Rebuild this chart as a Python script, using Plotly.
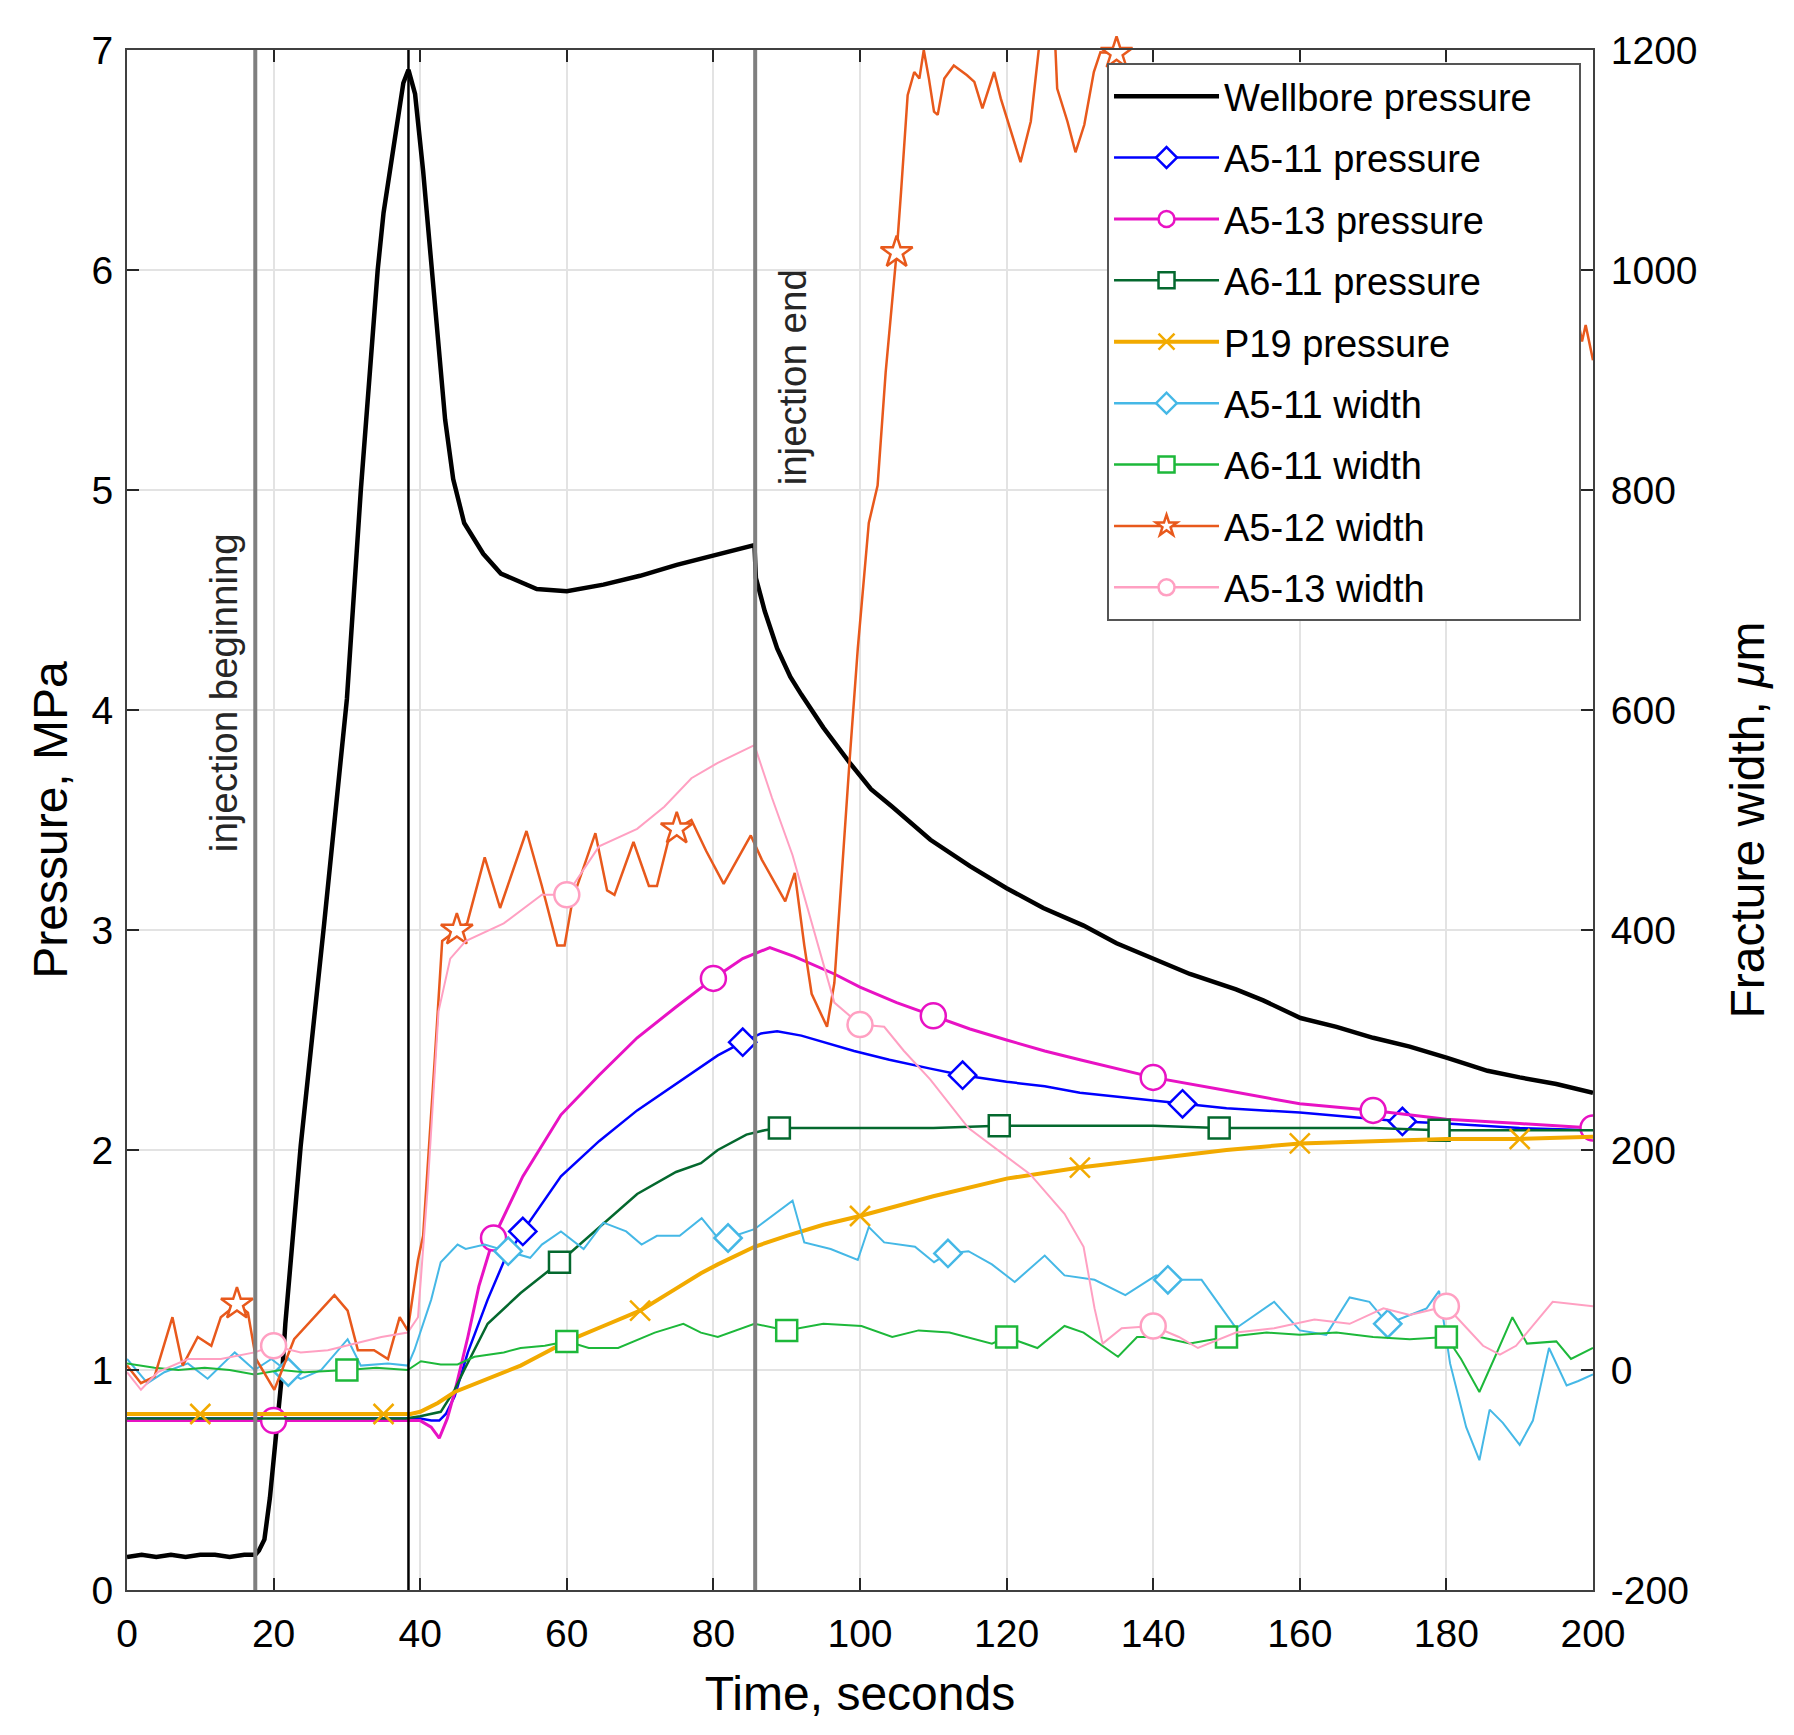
import plotly.graph_objects as go

# ---- data ----
# time in seconds, pressure in MPa (left axis), width in micrometres (right axis)

wb_t = [0, 2, 4, 6, 8, 10, 12, 14, 16, 17.5, 18, 18.75, 19.5, 20.6, 21.2, 21.6, 23.7, 26.9,
        30, 31.9, 34.2, 35.0, 36.5, 37.7, 38.4, 39.3, 40.4, 41.5, 42.5, 43.4, 44.5, 46, 48.6,
        51, 55.9, 60, 65, 70, 75, 80, 85.6, 85.8, 87, 88.7, 90.5, 92, 95, 98.6, 101.5, 104.4,
        109.6, 115, 120, 125, 130.5, 135, 140.9, 145, 151.3, 155, 160.1, 165, 170, 175, 180,
        185.6, 190, 195, 200]
wb_p = [0.15, 0.16, 0.15, 0.16, 0.15, 0.16, 0.16, 0.15, 0.16, 0.16, 0.18, 0.23, 0.42, 0.78,
        1.0, 1.21, 2.02, 3.03, 4.05, 5.0, 6.0, 6.26, 6.6, 6.85, 6.91, 6.8, 6.45, 6.02, 5.65,
        5.32, 5.05, 4.85, 4.71, 4.62, 4.55, 4.54, 4.57, 4.61, 4.66, 4.7, 4.75, 4.6, 4.45, 4.28,
        4.15, 4.07, 3.92, 3.76, 3.64, 3.56, 3.41, 3.29, 3.19, 3.1, 3.02, 2.94, 2.86, 2.8, 2.73,
        2.68, 2.6, 2.56, 2.51, 2.47, 2.42, 2.36, 2.33, 2.3, 2.26]

a511p_t = [0, 10, 20, 30, 38, 40, 41.5, 42.6, 43.5, 44.7, 46.5, 49.2, 51.5, 54, 59.2, 64.4,
           69.6, 74.9, 80.6, 84, 86.5, 88.7, 92, 99.2, 104, 109.6, 114, 120, 125.2, 130, 135.7,
           144, 150, 160, 167, 174, 180, 190, 200]
a511p_p = [0.78, 0.78, 0.78, 0.78, 0.78, 0.78, 0.77, 0.77, 0.8, 0.88, 1.08, 1.32, 1.5, 1.63,
           1.88, 2.04, 2.18, 2.3, 2.43, 2.49, 2.53, 2.54, 2.52, 2.45, 2.41, 2.37, 2.34, 2.31,
           2.29, 2.26, 2.24, 2.21, 2.19, 2.17, 2.15, 2.13, 2.12, 2.1, 2.09]
a511p_marks = [54, 84, 114, 144, 174]

a513p_t = [0, 10, 20, 30, 38, 40, 41.5, 42.6, 43.7, 44.7, 46.5, 48, 50, 54, 59.2, 64.4, 69.6,
           74.9, 80, 84, 87.7, 91, 96.5, 100, 105, 110, 115, 120, 125.2, 130, 135, 140, 150,
           160, 170, 180, 190, 200]
a513p_p = [0.77, 0.77, 0.77, 0.77, 0.77, 0.77, 0.74, 0.69, 0.78, 0.9, 1.15, 1.38, 1.6, 1.88,
           2.16, 2.34, 2.51, 2.65, 2.78, 2.87, 2.92, 2.88, 2.8, 2.74, 2.67, 2.61, 2.55, 2.5,
           2.45, 2.41, 2.37, 2.33, 2.27, 2.21, 2.18, 2.14, 2.12, 2.1]
a513p_marks = [20, 50, 80, 110, 140, 170, 200]

a611p_t = [0, 10, 20, 29, 38, 40, 42.8, 44.7, 46, 49.2, 53.7, 59, 64.4, 69.6, 74.9, 78.3, 80.6,
           84.5, 87, 89, 95, 100, 110, 119, 130, 140, 149, 160, 170, 179, 190, 200]
a611p_p = [0.78, 0.78, 0.78, 0.78, 0.78, 0.79, 0.81, 0.91, 1.0, 1.21, 1.35, 1.49, 1.65, 1.8,
           1.9, 1.94, 2.0, 2.07, 2.09, 2.1, 2.1, 2.1, 2.1, 2.11, 2.11, 2.11, 2.1, 2.1, 2.1, 2.09,
           2.09, 2.09]
a611p_marks = [59, 89, 119, 149, 179]

p19_t = [0, 10, 20, 30, 35, 38.7, 40, 42.4, 44.7, 49.2, 53.7, 56, 60, 65, 70, 74.9, 78.3, 80.6,
         85.6, 90, 95, 100, 110, 120, 130, 140, 150, 160, 170, 180, 190, 200]
p19_p = [0.8, 0.8, 0.8, 0.8, 0.8, 0.8, 0.81, 0.85, 0.9, 0.96, 1.02, 1.06, 1.13, 1.2, 1.27, 1.37,
         1.44, 1.48, 1.56, 1.61, 1.66, 1.7, 1.79, 1.87, 1.92, 1.96, 2.0, 2.03, 2.04, 2.05, 2.05,
         2.06]
p19_marks = [10, 35, 70, 100, 130, 160, 190]

a511w_t = [0, 2.8, 5.1, 8.3, 11, 14.7, 17.4, 19.7, 22, 23.7, 26.5, 30.1, 31.9, 35.6, 38.3, 39.2,
           41.5, 42.8, 45.1, 46.2, 48.8, 52, 55, 56.6, 59.2, 62.3, 65, 68.1, 70.2, 72.3, 75.4,
           78.4, 80.6, 82, 85.6, 90.8, 92.4, 96, 99.7, 101.2, 103.3, 107.5, 110.1, 112, 114.8,
           118, 121.1, 125.2, 127.9, 132, 136.2, 140.4, 142, 146.6, 151.3, 156.5, 160, 163.6,
           166.8, 169.5, 172, 177.3, 179, 180.5, 182.7, 184.5, 185.9, 187.7, 190, 191.8, 194,
           196.4, 198, 200]
a511w_w = [10, -12, -2, 6, -8, 16, 0, 10, -2, -8, 0, 28, 4, 6, 4, 18, 64, 98, 114, 110, 114,
           108, 102, 114, 126, 110, 134, 126, 114, 122, 122, 138, 120, 120, 128, 154, 116, 110,
           100, 130, 116, 112, 98, 106, 108, 96, 80, 104, 86, 82, 68, 86, 82, 82, 38, 62, 36, 32,
           66, 62, 42, 56, 72, 6, -52, -82, -36, -48, -68, -46, 20, -14, -10, -4]
a511w_marks = [22, 52, 82, 112, 142, 172]

a611w_t = [0, 3.75, 7, 10.6, 14, 17.4, 21, 24.2, 30, 34, 38.3, 40.1, 42.8, 45.1, 47.4, 51.4,
           53.7, 57, 60, 63, 67, 72, 75.9, 78.3, 80.6, 85.6, 90, 95, 100.2, 104.4, 108, 112.2,
           118, 120, 124.2, 127.9, 130.5, 135.2, 137.8, 140.9, 145, 150, 155.5, 160, 165, 170,
           175, 180, 182, 184.5, 186.5, 189, 191, 195, 197, 200]
a611w_w = [6, 2, 0, 2, 0, -4, 0, -2, 0, 2, 0, 8, 5, 5, 12, 16, 20, 22, 26, 20, 20, 34, 42, 34,
           30, 42, 36, 42, 40, 30, 36, 34, 24, 30, 20, 40, 34, 12, 30, 30, 24, 30, 34, 32, 34,
           30, 28, 30, 10, -20, 10, 48, 24, 26, 10, 20]
a611w_marks = [30, 60, 90, 120, 150, 180]

a512w_t = [0, 1.9, 3.75, 6.2, 7.6, 9.65, 11.5, 12.8, 15, 16.5, 17.6, 20.1, 22.8, 25.6, 28.3,
           30.1, 31.5, 33.7, 35.6, 37.2, 38.3, 39.7, 40.4, 42, 43, 45, 46.4, 48.8, 50.9, 54.5,
           56.6, 58.7, 59.7, 60.8, 63.9, 65.5, 66.5, 69.1, 71.2, 72.3, 73.8, 75, 77, 79, 81.4,
           85.1, 86.6, 89.8, 91.1, 92.4, 93.4, 95.5, 96.5, 98.6, 99.7, 101.2, 102.4, 103.5, 105,
           105.6, 106.5, 107.4, 108.1, 108.7, 109.4, 110.1, 110.6, 111.5, 112.8, 114.6, 115.6,
           116.7, 118.3, 119.2, 120.6, 121.9, 123.3, 124.4, 125.5, 126.5, 126.9, 128.3, 129.4,
           130.6, 131.9, 132.8, 135, 137, 145, 155, 165, 175, 185, 195, 197.7, 198.5, 199, 200]
a512w_w = [4, -12, -6, 48, 4, 30, 22, 48, 60, 52, 10, -18, 28, 48, 68, 54, 18, 18, 10, 48, 36,
           100, 122, 284, 390, 400, 406, 466, 420, 490, 440, 386, 386, 428, 488, 436, 432, 480,
           440, 440, 480, 492, 500, 472, 442, 486, 464, 426, 452, 386, 342, 312, 352, 556, 656,
           770, 804, 907, 1016, 1071, 1159, 1180, 1174, 1200, 1174, 1144, 1141, 1174, 1186,
           1177, 1171, 1147, 1180, 1156, 1126, 1098, 1135, 1201, 1230, 1225, 1165, 1135, 1107,
           1132, 1180, 1198, 1197, 1180, 1150, 1120, 1080, 1040, 1000, 980, 963, 935, 950, 918]
a512w_marks = [15, 45, 75, 105, 135, 165, 195]

a513w_t = [0, 1.9, 4.2, 8.3, 12.8, 17.4, 20, 23.7, 27.4, 31, 34.7, 38.3, 39.7, 41, 42.5, 44.1,
           46.2, 51.4, 56.6, 60, 64.4, 69.6, 73.3, 77, 80.6, 85.6, 88, 90.8, 93.9, 96.5, 100,
           103.3, 106, 109.6, 114.8, 120, 123.2, 127.9, 130.5, 132, 133.1, 135.7, 140, 143.5,
           146.1, 151.3, 156.5, 162, 166.8, 171.4, 175, 180, 185, 187.3, 189.5, 194.5, 200]
a513w_w = [-2, -18, -2, 10, 10, 16, 22, 16, 18, 24, 30, 34, 48, 164, 326, 374, 390, 406, 432,
           432, 476, 492, 512, 538, 552, 568, 520, 468, 394, 334, 314, 312, 290, 264, 220, 194,
           178, 142, 112, 56, 24, 38, 40, 30, 20, 34, 38, 46, 42, 56, 50, 58, 22, 14, 22, 62, 58]
a513w_marks = [20, 60, 100, 140, 180]

x_ticks = [0, 20, 40, 60, 80, 100, 120, 140, 160, 180, 200]
p_ticks = [0, 1, 2, 3, 4, 5, 6, 7]
w_ticks = [-200, 0, 200, 400, 600, 800, 1000, 1200]

event_t = [17.5, 38.4, 85.7]
event_labels = [(13.2, 4.08, "injection beginning"), (90.8, 5.51, "injection end")]

FONT = "Liberation Sans, Arial, sans-serif"
INK = "#262626"
PAD = "\u00a0" * 4  # widens the legend box a little

fig = go.Figure()


def add_series(name, t, v, marks, color, width, symbol, msize, yaxis="y", clip=True):
    fig.add_trace(go.Scatter(x=t, y=v, mode="lines", yaxis=yaxis,
                             line=dict(color=color, width=width),
                             showlegend=False, hoverinfo="skip"))
    if symbol is None:
        marker = None
    elif symbol == "x-thin":
        marker = dict(symbol=symbol, size=msize, color=color,
                      line=dict(color=color, width=2.5))
    else:
        marker = dict(symbol=symbol, size=msize, color="white",
                      line=dict(color=color, width=2.5))
    if marks:
        mx = [a for a in t if a in marks]
        my = [b for a, b in zip(t, v) if a in marks]
        fig.add_trace(go.Scatter(x=mx, y=my, mode="markers", yaxis=yaxis, marker=marker,
                                 cliponaxis=clip, showlegend=False, hoverinfo="skip"))
    # legend entry only
    fig.add_trace(go.Scatter(x=[None], y=[None], name=name, legendgroup=name, yaxis=yaxis,
                             mode="lines+markers" if marker else "lines",
                             line=dict(color=color, width=max(width, 2.5)), marker=marker))


add_series("Wellbore pressure" + PAD, wb_t, wb_p, None, "black", 4.5, None, 0)
add_series("A5-11 pressure", a511p_t, a511p_p, a511p_marks, "#0000FF", 2.5, "diamond", 21)
add_series("A5-13 pressure", a513p_t, a513p_p, a513p_marks, "#E812C4", 3, "circle", 25)
add_series("A6-11 pressure", a611p_t, a611p_p, a611p_marks, "#04682E", 2.5, "square", 21)
add_series("P19 pressure", p19_t, p19_p, p19_marks, "#F2AA00", 4, "x-thin", 20)
add_series("A5-11 width", a511w_t, a511w_w, a511w_marks, "#45B8E6", 2, "diamond", 21, "y2")
add_series("A6-11 width", a611w_t, a611w_w, a611w_marks, "#1DB83A", 2, "square", 21, "y2")
add_series("A5-12 width", a512w_t, a512w_w, a512w_marks, "#E8591C", 2.5, "star", 24, "y2",
           clip=False)
add_series("A5-13 width", a513w_t, a513w_w, a513w_marks, "#FFA0C2", 2, "circle", 25, "y2")

for i, et in enumerate(event_t):
    col = "black" if i == 1 else "#7F7F7F"
    fig.add_shape(type="line", xref="x", yref="paper", x0=et, x1=et, y0=0, y1=1,
                  line=dict(color=col, width=2.5 if i == 1 else 4), layer="above")

for x, y, txt in event_labels:
    fig.add_annotation(x=x, y=y, xref="x", yref="y", text=txt, textangle=-90,
                       showarrow=False, font=dict(family=FONT, size=38.5, color=INK))

axis_common = dict(ticks="inside", ticklen=12, tickwidth=2, tickcolor=INK,
                   showline=True, linecolor="#404040", linewidth=2, zeroline=False,
                   tickfont=dict(family=FONT, size=39, color="black"))

fig.update_layout(
    width=1794, height=1735,
    margin=dict(l=119, r=209, t=42, b=153),
    plot_bgcolor="white", paper_bgcolor="white",
    font=dict(family=FONT, color="black"),
    xaxis=dict(range=[0, 200], tickvals=x_ticks, mirror="ticks", showgrid=True,
               gridcolor="#E3E3E3", gridwidth=1.5, ticklabelstandoff=8,
               title=dict(text="Time, seconds", font=dict(size=48), standoff=23),
               **axis_common),
    yaxis=dict(range=[0, 7], tickvals=p_ticks, showgrid=True, gridcolor="#E3E3E3",
               gridwidth=1.5, ticklabelstandoff=4,
               title=dict(text="Pressure, MPa", font=dict(size=48), standoff=9),
               **axis_common),
    yaxis2=dict(range=[-200, 1200], tickvals=w_ticks, ticktext=[str(v) for v in w_ticks],
                overlaying="y", side="right", showgrid=False, ticklabelstandoff=8,
                title=dict(text="Fracture width, <i>\u03bc</i>m", font=dict(size=48),
                           standoff=34),
                **axis_common),
    legend=dict(x=0.6685, y=0.9916, xanchor="left", yanchor="top", bgcolor="white",
                bordercolor="#555555", borderwidth=2, itemwidth=105,
                traceorder="grouped", tracegroupgap=9,
                font=dict(family=FONT, size=38, color="black")),
    showlegend=True,
)

fig.write_html("out.html")
